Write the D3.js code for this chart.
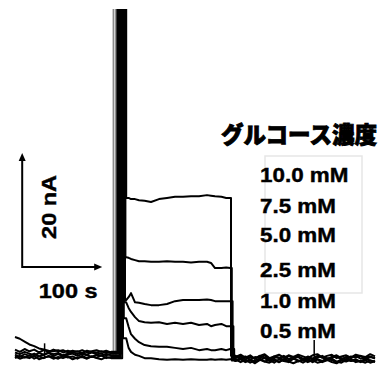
<!DOCTYPE html>
<html>
<head>
<meta charset="utf-8">
<script src="https://cdn.jsdelivr.net/npm/d3@7.9.0/dist/d3.min.js"></script>
<style>
  body { margin: 0; background: #fff; }
  svg { display: block; }
</style>
</head>
<body>
<svg id="chart" width="382" height="370"></svg>
<script>
// legend entries, top to bottom (same order as the traces)
const concentrations = ["10.0 mM", "7.5 mM", "5.0 mM", "2.5 mM", "1.0 mM", "0.5 mM"];
const titleText = "グルコース濃度";

// time grids (s)
const preTimes = [0, 6, 12, 18, 24, 30, 36, 42, 48, 54, 60, 66, 72, 78, 84, 90, 96, 102, 108, 114, 120];
const stepTimes = [139, 142, 145, 150, 155, 162, 170, 180, 190, 200, 210, 220, 230, 240, 245, 250, 258, 264, 269];
const postTimes = [276, 282, 288, 294, 300, 306, 312, 318, 324, 330, 336, 342, 348, 354, 360,
                   366, 372, 378, 384, 390, 396, 402, 408, 414, 420, 426, 432, 438, 444, 450];

// injection artefact (off scale) and return to buffer, per trace (s)
const spikeUp = [128, 129.5, 131, 132, 133, 134];
const spikeDown = [139, 138, 137.5, 137, 136, 135];
const dropTimes = [270, 271, 272, 273, 274, 275];
const grayEdge = [123.1, 126.2];

// current (nA) before the injection
const preValues = [
  [3.5, 3.2, 2.7, 2.2, 1.9, 1.5, 1.3, 1.1, 1.0, 1.2, 0.8, 1.1, 0.9, 1.0, 0.7, 1.1, 0.9, 0.8, 1.0, 0.7, 0.9],
  [1.3, 0.9, 1.4, 1.0, 1.3, 0.8, 1.2, 0.9, 1.3, 1.0, 1.2, 0.8, 1.1, 0.9, 1.2, 0.8, 1.0, 1.2, 0.9, 1.1, 0.8],
  [0.4, 0.0, 0.5, 0.2, 0.6, 0.1, 0.4, 0.7, 0.2, 0.5, 0.1, 0.4, 0.6, 0.2, 0.5, 0.3, 0.0, 0.4, 0.2, 0.5, 0.3],
  [-0.2, 0.2, -0.1, 0.3, -0.3, 0.1, -0.2, 0.2, 0.0, -0.3, 0.2, -0.1, 0.1, -0.3, 0.2, -0.2, 0.1, -0.1, 0.3, -0.2, 0.0],
  [0.8, 0.5, 0.9, 0.6, 0.3, 0.7, 0.4, 0.8, 0.5, 0.7, 0.3, 0.6, 0.9, 0.5, 0.7, 0.4, 0.8, 0.5, 0.6, 0.3, 0.6],
  [0.1, -0.3, 0.0, -0.2, 0.2, -0.4, -0.1, 0.1, -0.3, 0.0, -0.2, 0.1, -0.4, -0.1, 0.0, -0.3, 0.1, -0.2, -0.4, 0.0, -0.2]
];

// current (nA) while glucose is present
const stepValues = [
  [27.9, 27.9, 27.7, 27.7, 27.5, 27.4, 27.2, 27.7, 27.9, 28.1, 28.1, 28.2, 28.2, 28.4, 28.3, 28.2, 28.1, 27.9, 27.9],
  [17.5, 17.4, 17.2, 17.0, 16.8, 16.8, 16.7, 16.7, 16.8, 16.7, 16.7, 16.6, 16.7, 16.7, 16.5, 15.6, 15.6, 15.7, 15.6],
  [10.0, 10.5, 11.2, 9.6, 9.5, 9.3, 9.1, 9.1, 9.3, 9.8, 10.0, 10.0, 10.0, 10.1, 10.0, 9.8, 9.8, 9.8, 9.8],
  [9.6, 8.6, 7.9, 7.0, 6.3, 6.1, 6.0, 6.1, 5.8, 6.0, 5.8, 6.0, 5.6, 5.8, 5.4, 5.6, 5.8, 5.4, 5.4],
  [6.8, 5.3, 4.0, 3.2, 2.6, 2.1, 1.9, 1.8, 1.8, 1.6, 1.4, 1.6, 1.2, 1.4, 1.2, 1.2, 1.4, 1.2, 1.4],
  [3.3, 1.6, 0.9, 0.4, 0.2, -0.2, -0.2, -0.4, -0.5, -0.4, -0.5, -0.4, -0.5, -0.5, -0.4, -0.5, -0.4, -0.5, -0.4]
];

// current (nA) after washing out
const postValues = [
  [0.2, -0.3, 0.1, -0.5, 0.0, -0.2, 0.3, -0.4, 0.1, -0.1, -0.5, 0.2, -0.2, 0.0, -0.6, 0.1, -0.3, 0.2, -0.1, -0.4, 0.0, 0.3, -0.2, -0.5, 0.1, -0.1, 0.2, -0.4, 0.0, -0.2],
  [-0.6, -0.2, -0.8, -0.4, -0.9, -0.5, -0.2, -0.7, -0.3, -0.9, -0.4, -0.6, -0.1, -0.8, -0.5, -0.3, -0.9, -0.4, -0.7, -0.2, -0.6, -0.9, -0.4, -0.1, -0.7, -0.5, -0.8, -0.3, -0.6, -0.9],
  [0.0, 0.4, -0.1, 0.3, -0.3, 0.2, 0.5, -0.2, 0.1, 0.4, -0.1, 0.3, 0.0, 0.4, 0.1, -0.2, 0.3, 0.5, -0.1, 0.2, 0.4, -0.2, 0.1, 0.3, -0.1, 0.4, 0.2, 0.0, 0.5, 0.1],
  [-0.4, -0.9, -0.5, -1.0, -0.6, -0.3, -0.8, -0.5, -1.0, -0.4, -0.7, -0.9, -0.3, -0.6, -1.0, -0.5, -0.8, -0.4, -0.9, -0.6, -0.3, -0.8, -1.0, -0.5, -0.7, -0.4, -0.9, -0.6, -1.0, -0.7],
  [-0.2, 0.1, -0.4, 0.0, -0.3, 0.2, -0.1, -0.5, 0.0, -0.2, 0.2, -0.4, -0.1, 0.1, -0.3, 0.0, -0.5, -0.1, 0.2, -0.3, -0.1, 0.1, -0.4, 0.0, -0.2, 0.2, -0.3, -0.1, 0.1, -0.3],
  [-0.7, -0.4, -0.9, -0.6, -1.1, -0.5, -0.8, -1.0, -0.6, -0.9, -0.4, -0.8, -1.1, -0.7, -0.5, -0.9, -0.6, -1.0, -0.8, -0.5, -0.9, -1.1, -0.6, -0.8, -0.4, -0.9, -0.7, -1.0, -0.6, -0.8]
];

// short single-point glitches: time (s), peak (nA)
const glitches = [[37, 2.4], [374, 3.0]];

// scale bar: origin (s, nA) and lengths
const barOrigin = [9, 15.8];
const barTime = 100;
const barCurrent = 20;

const svg = d3.select("#chart");
const W = 382, H = 370;

const x = d3.scaleLinear().domain([0, 100]).range([15, 95]);
const y = d3.scaleLinear().domain([0, 20]).range([357, 243]);
const OFF = 70; // off-scale value for the artefact

const stretch = 1.12; // the picture is a little wider than tall

svg.append("defs").append("clipPath").attr("id", "plotClip")
  .append("rect").attr("x", 0).attr("y", 9).attr("width", W).attr("height", H - 9);

const line = d3.line().x(d => x(d[0])).y(d => y(d[1]));

const plot = svg.append("g").attr("clip-path", "url(#plotClip)");

// gray edge of the artefact
plot.append("path")
  .attr("d", line([[grayEdge[0] - 3, 0.3], [grayEdge[0], 0.3], [grayEdge[0], OFF], [grayEdge[1], OFF], [grayEdge[1], 0.3]]))
  .attr("fill", "none")
  .attr("stroke", "#8c8c8c")
  .attr("stroke-width", 1.8);

// build each trace
concentrations.forEach((c, k) => {
  const pre = preValues[k], step = stepValues[k], post = postValues[k];
  const pts = pre.map((v, i) => [preTimes[i], v]);
  pts.push([spikeUp[k], pre[pre.length - 1]]);
  pts.push([spikeUp[k], OFF]);
  pts.push([spikeDown[k], OFF]);
  pts.push([spikeDown[k], step[0]]);
  step.forEach((v, i) => pts.push([stepTimes[i], v]));
  pts.push([dropTimes[k], step[step.length - 1]]);
  pts.push([dropTimes[k], post[0]]);
  post.forEach((v, i) => pts.push([postTimes[i], v]));

  plot.append("path")
    .attr("d", line(pts))
    .attr("fill", "none")
    .attr("stroke", "#000")
    .attr("stroke-width", 2)
    .attr("stroke-linejoin", "round");
});

// glitches
plot.selectAll("line.glitch")
  .data(glitches)
  .enter()
  .append("line")
  .attr("class", "glitch")
  .attr("x1", d => x(d[0])).attr("x2", d => x(d[0]))
  .attr("y1", y(0)).attr("y2", d => y(d[1]))
  .attr("stroke", "#000")
  .attr("stroke-width", 1.5);

// scale bar
const bx0 = x(barOrigin[0]), by0 = y(barOrigin[1]);
const bx1 = x(barOrigin[0] + barTime), by1 = y(barOrigin[1] + barCurrent);
svg.append("path")
  .attr("d", `M${bx0},${by1 + 6}L${bx0},${by0}L${bx1 - 6},${by0}`)
  .attr("fill", "none").attr("stroke", "#000").attr("stroke-width", 2);
svg.append("path")
  .attr("d", `M${bx0},${by1}L${bx0 - 3.5},${by1 + 8}L${bx0 + 3.5},${by1 + 8}Z`)
  .attr("fill", "#000");
svg.append("path")
  .attr("d", `M${bx1},${by0}L${bx1 - 8},${by0 - 3.5}L${bx1 - 8},${by0 + 3.5}Z`)
  .attr("fill", "#000");

function stretchText(sel, factor) {
  sel.each(function() {
    const len = this.getComputedTextLength();
    d3.select(this).attr("textLength", len * factor).attr("lengthAdjust", "spacingAndGlyphs");
  });
}

const sans = "'Liberation Sans', Arial, sans-serif";

svg.append("text")
  .attr("x", (bx0 + bx1) / 2 + 6)
  .attr("y", by0 + 31)
  .attr("text-anchor", "middle")
  .style("font-family", sans).style("font-weight", "bold").style("font-size", "21px")
  .attr("stroke", "#000").attr("stroke-width", 0.4)
  .text(barTime + " s")
  .call(stretchText, stretch);

svg.append("text")
  .attr("transform", `translate(${bx0 + 34},${(by0 + by1) / 2 - 3}) rotate(-90)`)
  .attr("text-anchor", "middle")
  .style("font-family", sans).style("font-weight", "bold").style("font-size", "21px")
  .attr("stroke", "#000").attr("stroke-width", 0.4)
  .text(barCurrent + " nA")
  .call(stretchText, 1.12);

// title
svg.append("text")
  .attr("x", 221)
  .attr("y", 143)
  .style("font-family", "'Noto Sans CJK JP', sans-serif").style("font-weight", "900").style("font-size", "23px")
  .attr("stroke", "#000").attr("stroke-width", 0.9)
  .attr("textLength", 156).attr("lengthAdjust", "spacingAndGlyphs")
  .text(titleText);

// legend box
svg.append("rect")
  .attr("x", 265).attr("y", 156).attr("width", 97).attr("height", 137)
  .attr("fill", "none").attr("stroke", "#e6e6e6").attr("stroke-width", 1.5);

const labelBase = [182, 213, 242, 277, 308, 338];
svg.selectAll("text.conc")
  .data(concentrations)
  .enter()
  .append("text")
  .attr("class", "conc")
  .attr("x", 260)
  .attr("y", (d, i) => labelBase[i])
  .style("font-family", sans).style("font-weight", "bold").style("font-size", "20px")
  .attr("stroke", "#000").attr("stroke-width", 0.4)
  .text(d => d)
  .call(stretchText, stretch);
</script>
</body>
</html>
